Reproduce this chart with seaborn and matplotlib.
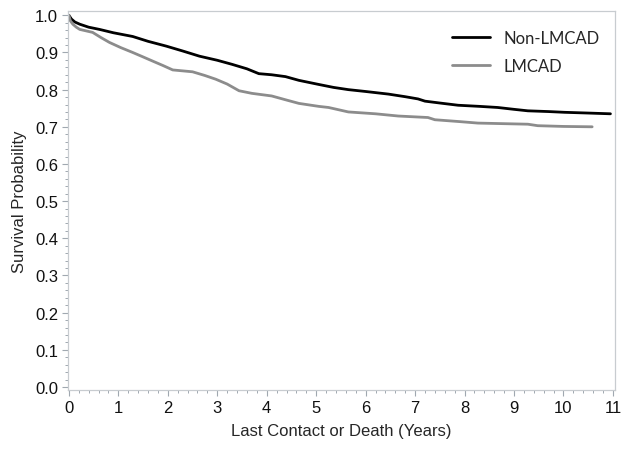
import pandas as pd
import seaborn as sns
import matplotlib.pyplot as plt
from matplotlib.ticker import MultipleLocator

# Kaplan-Meier estimates (years, survival probability)
non_lmcad_years = [0.0, 0.05, 0.12, 0.22, 0.4, 0.62, 0.9, 1.29, 1.6, 1.97, 2.3, 2.64,
                   3.0, 3.3, 3.6, 3.84, 4.1, 4.38, 4.65, 5.05, 5.35, 5.65, 6.0, 6.46,
                   6.8, 7.06, 7.2, 7.5, 7.87, 8.3, 8.67, 9.0, 9.28, 9.7, 10.02, 10.5, 10.95]
non_lmcad_surv = [1.0, 0.99, 0.982, 0.976, 0.968, 0.962, 0.953, 0.943, 0.93, 0.917, 0.904,
                  0.89, 0.879, 0.868, 0.856, 0.843, 0.84, 0.835, 0.825, 0.814, 0.806, 0.80,
                  0.795, 0.788, 0.781, 0.775, 0.769, 0.764, 0.758, 0.755, 0.752, 0.747,
                  0.743, 0.741, 0.739, 0.737, 0.735]

lmcad_years = [0.0, 0.03, 0.08, 0.15, 0.22, 0.48, 0.65, 0.82, 1.05, 1.29, 1.5, 1.69, 1.9,
               2.1, 2.5, 2.75, 2.97, 3.2, 3.44, 3.7, 4.1, 4.4, 4.65, 5.05, 5.25, 5.65,
               6.2, 6.66, 7.26, 7.4, 7.9, 8.27, 9.28, 9.48, 10.0, 10.58]
lmcad_surv = [1.0, 0.985, 0.976, 0.968, 0.962, 0.954, 0.94, 0.927, 0.913, 0.9, 0.888,
              0.877, 0.865, 0.853, 0.848, 0.838, 0.828, 0.815, 0.797, 0.79, 0.783,
              0.772, 0.763, 0.755, 0.752, 0.74, 0.735, 0.729, 0.725, 0.719, 0.714,
              0.71, 0.707, 0.703, 0.701, 0.70]

df = pd.concat([
    pd.DataFrame({'Years': non_lmcad_years, 'Survival': non_lmcad_surv, 'Group': 'Non-LMCAD'}),
    pd.DataFrame({'Years': lmcad_years, 'Survival': lmcad_surv, 'Group': 'LMCAD'}),
])

sns.set_style('white')
plt.rcParams['font.family'] = ['Liberation Sans', 'DejaVu Sans']

fig = plt.figure(figsize=(6.23, 4.52), dpi=100)
ax = fig.add_axes([0.109, 0.135, 0.878, 0.838])

sns.lineplot(data=df, x='Years', y='Survival', hue='Group',
             palette={'Non-LMCAD': '#000000', 'LMCAD': '#8c8c8c'},
             linewidth=2, ax=ax, estimator=None, sort=False)

ax.set_xlim(-0.02, 11.04)
ax.set_ylim(-0.008, 1.011)
ax.xaxis.set_major_locator(MultipleLocator(1))
ax.xaxis.set_minor_locator(MultipleLocator(0.2))
ax.yaxis.set_major_locator(MultipleLocator(0.1))
ax.yaxis.set_minor_locator(MultipleLocator(0.02))
ax.yaxis.set_major_formatter(plt.FormatStrFormatter('%.1f'))

ax.tick_params(which='both', direction='out', color='#a0a8b0', labelsize=12, labelcolor='#111111')
ax.tick_params(which='major', length=4, width=0.8, pad=3)
ax.tick_params(which='minor', length=2.5, width=0.7)
ax.tick_params(axis='x', which='both', bottom=True)
ax.tick_params(axis='y', which='both', left=True)

for spine in ax.spines.values():
    spine.set_color('#c8ccd0')
    spine.set_linewidth(0.9)

ax.set_xlabel('Last Contact or Death (Years)', fontsize=12, labelpad=6)
ax.set_ylabel('Survival Probability', fontsize=12, labelpad=6)

leg = ax.legend(loc='upper right', frameon=False, title=None, handlelength=2.3,
                prop={'family': 'Lato', 'size': 12}, labelspacing=0.7,
                bbox_to_anchor=(1.0, 0.99))

plt.savefig('out.png', dpi=100)
